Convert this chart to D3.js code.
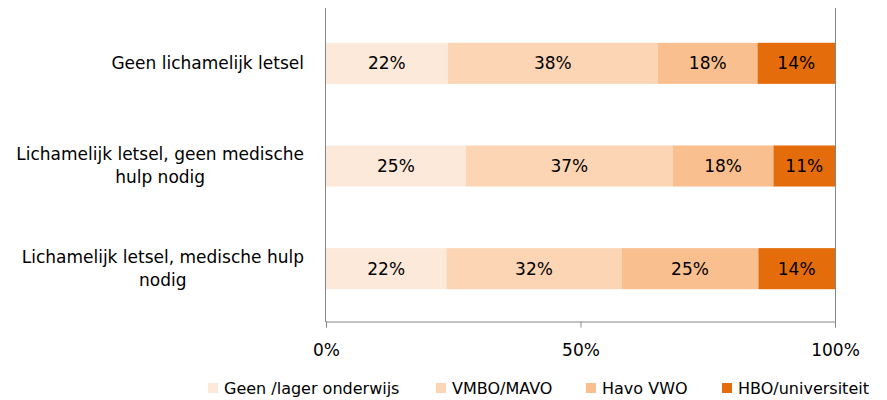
<!DOCTYPE html>
<html>
<head>
<meta charset="utf-8">
<script src="https://cdn.jsdelivr.net/npm/d3@7"></script>
<style>
  body { margin: 0; background: #fff; }
  text { font-family: "DejaVu Sans", Verdana, sans-serif; fill: #000; }
</style>
</head>
<body>
<svg id="chart"></svg>
<script>
// data
var categories = ['Geen lichamelijk letsel',
                  'Lichamelijk letsel, geen medische hulp nodig',
                  'Lichamelijk letsel, medische hulp nodig'];
var series = ['Geen /lager onderwijs', 'VMBO/MAVO', 'Havo VWO', 'HBO/universiteit'];
var geenLager = [22, 25, 22];
var vmboMavo  = [38, 37, 32];
var havoVwo   = [18, 18, 25];
var hbo       = [14, 11, 14];
var ticks = [0, 50, 100];
var colors = ['#FDE9D9', '#FCD5B4', '#FABF8F', '#E46C0A'];

var width = 887, height = 400;
var plotLeft = 326, plotRight = 835, plotTop = 12, plotBottom = 320;
var fs = '17px';

var svg = d3.select('#chart')
    .attr('width', width)
    .attr('height', height);

var rows = categories.map(function(c, i) {
  return {cat: c, vals: [geenLager[i], vmboMavo[i], havoVwo[i], hbo[i]]};
});

var x = d3.scaleLinear().domain([0, 100]).range([plotLeft, plotRight]);
var y = d3.scaleBand().domain(categories).range([plotTop, plotBottom]).paddingInner(0.6).paddingOuter(0.3);

// bars, each row scaled to 100%
rows.forEach(function(r) {
  var total = d3.sum(r.vals);
  var acc = 0;
  var segs = r.vals.map(function(v, k) {
    var s = {v: v, k: k, x0: acc / total * 100};
    acc += v;
    s.x1 = acc / total * 100;
    return s;
  });
  var g = svg.append('g');
  g.selectAll('rect')
    .data(segs)
    .enter()
    .append('rect')
    .attr('x', d => x(d.x0))
    .attr('width', d => x(d.x1) - x(d.x0))
    .attr('y', y(r.cat))
    .attr('height', y.bandwidth())
    .attr('fill', d => colors[d.k]);
  g.selectAll('text')
    .data(segs)
    .enter()
    .append('text')
    .attr('x', d => (x(d.x0) + x(d.x1)) / 2)
    .attr('y', y(r.cat) + y.bandwidth() / 2)
    .attr('dy', '0.35em')
    .attr('text-anchor', 'middle')
    .style('font-size', fs)
    .text(d => d.v + '%');
});

// axis lines
svg.append('line')
  .attr('x1', plotLeft - 0.5).attr('x2', plotLeft - 0.5)
  .attr('y1', 8).attr('y2', 322)
  .attr('stroke', '#868686');
svg.append('line')
  .attr('x1', plotRight + 0.5).attr('x2', plotRight + 0.5)
  .attr('y1', 8).attr('y2', 322)
  .attr('stroke', '#868686');

var xAxis = svg.append('g')
  .attr('transform', 'translate(0,321.5)')
  .call(d3.axisBottom(x).tickValues(ticks).tickSize(6).tickPadding(16).tickFormat(d => d + '%'));
xAxis.select('.domain').attr('stroke', '#868686');
xAxis.selectAll('.tick line').attr('stroke', '#868686');
xAxis.selectAll('text').style('font-size', fs).style('font-family', '"DejaVu Sans", sans-serif');

// category labels, wrapped and centred in a block right-aligned to the axis
var labelRight = 304, maxW = 302;
categories.forEach(function(c) {
  var t = svg.append('text').style('font-size', fs).attr('text-anchor', 'middle');
  var words = c.split(' '), lines = [], line = [];
  words.forEach(function(w) {
    var test = line.concat(w).join(' ');
    t.text(test);
    if (t.node().getComputedTextLength() > maxW && line.length) {
      lines.push(line.join(' '));
      line = [w];
    } else {
      line.push(w);
    }
  });
  lines.push(line.join(' '));
  var wMax = 0;
  lines.forEach(function(l) { t.text(l); wMax = Math.max(wMax, t.node().getComputedTextLength()); });
  t.text(null);
  var cx = labelRight - wMax / 2;
  var cy = y(c) + y.bandwidth() / 2;
  var lh = 23;
  lines.forEach(function(l, i) {
    t.append('tspan')
      .attr('x', cx)
      .attr('y', cy + (i - (lines.length - 1) / 2) * lh)
      .attr('dy', '0.35em')
      .text(l);
  });
});

// legend
var legendX = [208, 436, 586, 722];
var lg = svg.append('g').selectAll('g')
  .data(series)
  .enter()
  .append('g')
  .attr('transform', (d, i) => 'translate(' + legendX[i] + ',383)');
lg.append('rect').attr('width', 10).attr('height', 10).attr('fill', (d, i) => colors[i]);
lg.append('text')
  .attr('x', 16).attr('y', 5).attr('dy', '0.35em')
  .style('font-size', '16px')
  .text(d => d);
</script>
</body>
</html>
